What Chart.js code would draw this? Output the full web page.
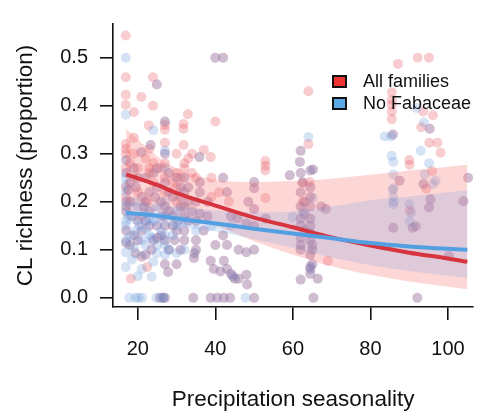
<!DOCTYPE html>
<html>
<head>
<meta charset="utf-8">
<script src="https://cdn.jsdelivr.net/npm/chart.js@4/dist/chart.umd.min.js"></script>
<style>
html,body{margin:0;padding:0;background:#fff;}
#wrap{width:482px;height:414px;position:relative;}
</style>
</head>
<body>
<div id="wrap"><canvas id="c" width="482" height="414"></canvas></div>
<script>
// ---- data ----
const xTicks = [20, 40, 60, 80, 100];
const yTicks = [0, 0.1, 0.2, 0.3, 0.4, 0.5];
const seriesNames = ["All families", "No Fabaceae"];

// sites where both series have the same value (overlapping, purple-looking)
const sharedX = [17,17,17,17,17,17,17,19.4,20,21,22,20.9,24.9,25,25,23.5,23,24.5,25.7,23.3,
  27,27,27,27,27,27,27,27.8,27,27,26.5,30,29,30.5,29.5,31,32,32,32,32,32,32,35.9,34.6,34.5,34.3,
  35,35,35,40,42,38.8,38.8,39.6,38,40,42.2,42.2,41.3,43,44,44.5,45,40.5,43.8,42,42,43,43,44,45.7,
  48.5,50,48,50,46,48,50,46,48,48.2,50,50,50,59.2,61.8,65.2,62,62,62,62,62,62,62,62,62,62,
  64.5,64.5,64.5,64.5,64.5,64.5,64.5,64.5,64.5,64.5,64.5,64.5,65.3,67.3,68.5,66.4,85.9,90.9,87.5,
  93.7,95.5,95.1,104,105.2,100.2,92.1,95.3,85.8,91.7,53,
  18,18.5,19,20,21,22,23,24,26,28,29,30,31,33,34,36,37,18,19.5,21.5,
  23,25,26,28,29,31,33,35,36,38,18,20,22,24,26,28,30,33,36,17.5,19,22,25,28,31,
  63,63,63,65,65,65,62.5];
const sharedY = [0.287,0.26,0.2,0.18,0.14,0.115,0.19,0.093,0.16,0.21,0.2,0.303,0.444,0.23,0.15,0.1,0.18,0.21,0.0,0.318,
  0.367,0.3,0.24,0.19,0.17,0.15,0.07,0.054,0.0,0.12,0.0,0.25,0.21,0.16,0.12,0.1,0.25,0.22,0.19,0.17,0.14,0.12,0.293,0.093,0.083,0.0,
  0.2,0.16,0.12,0.5,0.5,0.077,0.0,0.06,0.17,0.11,0.077,0.0,0.055,0.06,0.05,0.045,0.04,0.0,0.0,0.25,0.13,0.22,0.11,0.17,0.166,
  0.2,0.185,0.155,0.15,0.1,0.095,0.1,0.04,0.048,0.028,0.0,0.241,0.228,0.255,0.283,0.267,0.306,0.26,0.22,0.19,0.165,0.15,0.125,0.11,0.1,0.038,
  0.265,0.23,0.21,0.19,0.165,0.15,0.135,0.12,0.09,0.065,0.06,0.05,0.0,0.19,0.185,0.04,0.146,0.146,0.244,
  0.237,0.205,0.188,0.201,0.25,0.087,0.0,0.352,0.34,0.149,0.165,
  0.24,0.17,0.13,0.25,0.14,0.16,0.22,0.12,0.2,0.26,0.17,0.14,0.21,0.23,0.18,0.22,0.14,0.11,0.23,0.19,
  0.15,0.27,0.17,0.22,0.15,0.19,0.16,0.1,0.24,0.2,0.2,0.12,0.09,0.26,0.13,0.18,0.07,0.2,0.175,0.225,0.27,0.25,0.125,0.1,0.23,
  0.14,0.2,0.175,0.1,0.11,0.07,0.24];

// values seen only in the "All families" series
const allOnlyX = [16.9,16.9,16.9,16.9,16.9,16.9,16.9,16.9,16.9,16.9,18.2,20.9,19,19,19,20,21,21,23.9,23.9,22.8,22.4,
  23,23,24,22.5,27,27,27,27,27,27,30,30,30,30,32.9,31.8,31.8,31.8,32,32,34,34,37,38.8,40,39,39,41,43.5,
  52.9,52.9,52.9,52.9,64.3,62.5,62.5,64,64,69,90.1,90.1,95.9,94.4,92.2,95.1,87.1,85.5,85.5,85.5,85.5,85.5,
  93.1,93.6,96.1,95.2,97.3,98.1,90,
  18,20,22,24,26,29,31,33,35,19,23];
const allOnlyY = [0.546,0.459,0.423,0.402,0.32,0.31,0.30,0.27,0.23,0.21,0.04,0.418,0.387,0.333,0.25,0.22,0.17,0.085,0.459,0.4,0.359,0.064,
  0.27,0.31,0.24,0.2,0.36,0.35,0.323,0.28,0.25,0.22,0.26,0.23,0.2,0.3,0.382,0.362,0.352,0.318,0.28,0.27,0.3,0.26,0.308,0.293,0.367,0.25,0.21,0.22,0.2,
  0.285,0.275,0.265,0.208,0.241,0.2,0.24,0.43,0.32,0.077,0.277,0.182,0.264,0.227,0.5,0.5,0.487,0.428,0.412,0.402,0.388,0.372,
  0.355,0.388,0.38,0.323,0.323,0.302,0.287,
  0.28,0.27,0.29,0.28,0.27,0.24,0.25,0.29,0.25,0.3,0.26];

// values seen only in the "No Fabaceae" series
const noFabOnlyX = [16.9,16.9,16.9,16.9,16.9,16.9,16.9,16.9,16.9,16.9,17.8,19.4,21.1,20.2,20.9,19.5,21,20,21.5,19,
  24,23.6,24.9,23,24,25,24.8,22,27,27,27,27,27,27,26.6,30,30,30,32,32,35,39,44,47.8,
  64,62.5,65.2,60,85.9,85.9,85.9,85.9,85.9,95.1,94,96.8,96.2,90.1,90.1,91.9,83.7,85.3,85.5,93.8,93,90.5,86,85.8,
  18,19,20.5,22,23.5,25,26,18.5,21,24,28,29,17.5,20,23];
const noFabOnlyY = [0.5,0.381,0.25,0.235,0.22,0.16,0.15,0.12,0.095,0.064,0.0,0.0,0.0,0.0,0.087,0.14,0.12,0.19,0.175,0.2,
  0.349,0.044,0.093,0.13,0.16,0.19,0.0,0.11,0.306,0.27,0.2,0.13,0.11,0.09,0.0,0.093,0.15,0.18,0.16,0.1,0.14,0.15,0.15,0.0,
  0.335,0.18,0.208,0.168,0.283,0.257,0.228,0.211,0.195,0.28,0.257,0.244,0.237,0.195,0.159,0.395,0.336,0.336,0.296,0.365,0.306,0.177,0.2,0.225,
  0.13,0.105,0.15,0.145,0.125,0.11,0.14,0.08,0.06,0.075,0.1,0.13,0.17,0.045,0.165];

// fitted curves and confidence bands, read at these x positions
const fitX      = [17, 25, 30, 40, 50, 60, 70, 80, 90, 100, 105];
const allFit    = [0.257,0.235,0.218,0.192,0.167,0.147,0.126,0.109,0.094,0.082,0.075];
const allHigh   = [0.352,0.295,0.270,0.246,0.241,0.243,0.248,0.256,0.265,0.273,0.277];
const allLow    = [0.180,0.180,0.172,0.150,0.118,0.090,0.066,0.048,0.034,0.023,0.018];
const noFabFit  = [0.177,0.171,0.165,0.155,0.144,0.134,0.124,0.114,0.107,0.102,0.100];
const noFabHigh = [0.200,0.193,0.190,0.182,0.178,0.180,0.190,0.203,0.211,0.220,0.224];
const noFabLow  = [0.155,0.152,0.148,0.138,0.122,0.104,0.084,0.068,0.056,0.046,0.041];

// ---- build ----
const pts = (xs, ys) => xs.map((x, i) => ({x: x, y: ys[i]}));
const allPts = pts(sharedX, sharedY).concat(pts(allOnlyX, allOnlyY));
const noFabPts = pts(sharedX, sharedY).concat(pts(noFabOnlyX, noFabOnlyY));

const FONT = "'Liberation Sans', Arial, Helvetica, sans-serif";
const RED_LINE = 'rgb(214,52,62)';
const BLUE_LINE = 'rgb(82,160,226)';

const curve = (ys, color, width, order, fill, bg) => ({
  type: 'line', data: pts(fitX, ys), borderColor: color, borderWidth: width,
  backgroundColor: bg || 'rgba(0,0,0,0)', fill: fill || false, pointRadius: 0,
  cubicInterpolationMode: 'monotone', order: order
});

const legendPlugin = {
  id: 'customLegend',
  afterDraw(chart) {
    const ctx = chart.ctx;
    const items = [[seriesNames[0], 'rgb(238,52,52)'], [seriesNames[1], 'rgb(90,170,232)']];
    const a = chart.chartArea;
    const bx = a.left + 220, by0 = a.top + 52, gap = 22;
    ctx.save();
    items.forEach((it, i) => {
      const y = by0 + i * gap;
      ctx.fillStyle = it[1];
      ctx.fillRect(bx, y, 13, 11);
      ctx.lineWidth = 2;
      ctx.strokeStyle = '#111';
      ctx.strokeRect(bx, y, 13, 11);
      ctx.fillStyle = '#111';
      ctx.font = '18px ' + FONT;
      ctx.textBaseline = 'middle';
      ctx.fillText(it[0], bx + 30, y + 6);
    });
    ctx.restore();
  }
};

new Chart(document.getElementById('c'), {
  type: 'line',
  data: {
    datasets: [
      curve(noFabFit, BLUE_LINE, 4, 0),
      curve(allFit, RED_LINE, 4, 1),
      curve(noFabHigh, 'rgba(0,0,0,0)', 0, 2, '+1', 'rgba(120,160,228,0.22)'),
      curve(noFabLow, 'rgba(0,0,0,0)', 0, 2),
      curve(allHigh, 'rgba(0,0,0,0)', 0, 3, '+1', 'rgba(250,120,120,0.30)'),
      curve(allLow, 'rgba(0,0,0,0)', 0, 3),
      { label: seriesNames[1], data: noFabPts, showLine: false, pointRadius: 5, pointBorderWidth: 0,
        pointBackgroundColor: 'rgba(90,145,215,0.25)', order: 4 },
      { label: seriesNames[0], data: allPts, showLine: false, pointRadius: 5, pointBorderWidth: 0,
        pointBackgroundColor: 'rgba(230,75,85,0.28)', order: 5 }
    ]
  },
  options: {
    responsive: false,
    animation: false,
    events: [],
    layout: { padding: { top: 8, right: 1, left: 0, bottom: 0 } },
    plugins: { legend: { display: false }, tooltip: { enabled: false } },
    scales: {
      x: {
        type: 'linear', min: 13.6, max: 106.5,
        afterBuildTicks: s => { s.ticks = xTicks.map(v => ({value: v})); },
        afterFit: s => { s.height = 107; },
        border: { display: true, color: '#111', width: 1.6 },
        grid: { display: true, drawOnChartArea: false, drawTicks: true, tickLength: 13, color: '#111', lineWidth: 1.6 },
        ticks: { color: '#111', font: { family: FONT, size: 20 }, padding: 17, maxRotation: 0,
                 callback: v => String(v) },
        title: { display: true, text: 'Precipitation seasonality', color: '#111',
                 font: { family: FONT, size: 22.5 }, padding: { top: 0, bottom: 1 } }
      },
      y: {
        type: 'linear', min: -0.019, max: 0.57,
        afterBuildTicks: s => { s.ticks = yTicks.map(v => ({value: v})); },
        afterFit: s => { s.width = 113; },
        border: { display: true, color: '#111', width: 1.6 },
        grid: { display: true, drawOnChartArea: false, drawTicks: true, tickLength: 13, color: '#111', lineWidth: 1.6 },
        ticks: { color: '#111', font: { family: FONT, size: 20 }, padding: 12,
                 callback: v => Number(v).toFixed(1) },
        title: { display: true, text: 'CL richness (proportion)', color: '#111',
                 font: { family: FONT, size: 22.5 }, padding: { top: 12, bottom: 0 } }
      }
    }
  },
  plugins: [legendPlugin]
});
</script>
</body>
</html>
